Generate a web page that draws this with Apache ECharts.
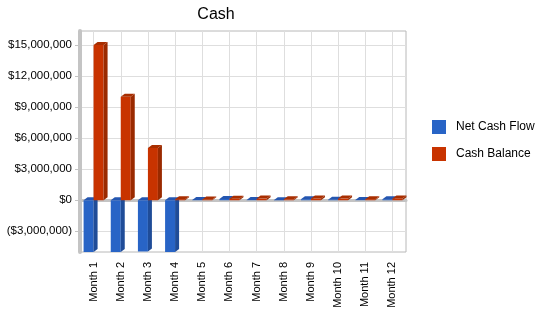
<!DOCTYPE html>
<html>
<head>
<meta charset="utf-8">
<title>Cash</title>
<script src="https://cdn.jsdelivr.net/npm/echarts@6/dist/echarts.min.js"></script>
<style>
html,body{margin:0;padding:0;background:#fff;}
#chart{width:550px;height:318px;}
</style>
</head>
<body>
<div id="chart"></div>
<script>
/**
 * 现金图表数据
 */
var months = ['Month 1','Month 2','Month 3','Month 4','Month 5','Month 6','Month 7','Month 8','Month 9','Month 10','Month 11','Month 12'];
var netCashFlow = [-5000000,-5000000,-4950000,-5000000,30000,120000,20000,10000,100000,50000,20000,100000];
var cashBalance = [15000000,10000000,5050000,100000,80000,150000,160000,90000,170000,160000,100000,180000];
var yTicks = [-3000000,0,3000000,6000000,9000000,12000000,15000000];

function money(v){
	var s = '$' + Math.abs(v).toString().replace(/\B(?=(\d{3})+(?!\d))/g, ',');
	return v < 0 ? '(' + s + ')' : s;
}

// 伪3D柱子：正面 + 侧面 + 顶面
function bar3d(offset, front, side, top){
	return function(params, api){
		var idx = api.value(0);
		var base = api.coord([idx, 0]);
		var end = api.coord([idx, api.value(1)]);
		var w = 10, dx = 4, dy = 3;
		var x0 = base[0] + offset * w;
		var yTop = Math.min(base[1], end[1]);
		var yBot = Math.max(base[1], end[1]);
		return {
			type: 'group',
			children: [{
				type: 'rect',
				shape: {x: x0, y: yTop, width: w, height: yBot - yTop},
				style: {fill: front}
			},{
				type: 'polygon',
				shape: {points: [[x0 + w, yTop],[x0 + w + dx, yTop - dy],[x0 + w + dx, yBot - dy],[x0 + w, yBot]]},
				style: {fill: side}
			},{
				type: 'polygon',
				shape: {points: [[x0, yTop],[x0 + dx, yTop - dy],[x0 + w + dx, yTop - dy],[x0 + w, yTop]]},
				style: {fill: top}
			}]
		};
	};
}

var chart = echarts.init(document.getElementById('chart'));
chart.setOption({
	animation: false,
	title: {
		text: 'Cash',
		left: 211,
		textAlign: 'center',
		top: 2,
		textStyle: {fontFamily: 'Liberation Sans', fontSize: 16, fontWeight: 'normal', color: '#000'}
	},
	legend: {
		orient: 'vertical',
		left: 432,
		top: 120,
		padding: 0,
		itemWidth: 14,
		itemHeight: 14,
		itemGap: 13,
		icon: 'rect',
		textStyle: {fontFamily: 'Liberation Sans', fontSize: 12, color: '#000', padding: [0, 0, 0, 5]},
		data: ['Net Cash Flow','Cash Balance']
	},
	grid: {
		left: 80,
		right: 144,
		top: 31,
		bottom: 66,
		show: true,
		borderColor: '#b8b8b8',
		borderWidth: 1
	},
	xAxis: {
		type: 'category',
		data: months,
		boundaryGap: true,
		axisLine: {lineStyle: {color: '#c4c4c4', width: 3}},
		axisTick: {alignWithLabel: true, length: 6, lineStyle: {color: '#c4c4c4'}},
		splitLine: {show: true, alignWithLabel: true, lineStyle: {color: '#dedede'}},
		axisLabel: {rotate: 90, margin: 10, interval: 0, fontFamily: 'Liberation Sans', fontSize: 11, color: '#000'}
	},
	yAxis: {
		type: 'value',
		min: -5000000,
		max: 16350000,
		axisLine: {show: true, lineStyle: {color: '#c4c4c4', width: 4}},
		axisTick: {show: true, length: 5, customValues: yTicks, lineStyle: {color: '#c4c4c4'}},
		axisLabel: {customValues: yTicks, margin: 8, fontFamily: 'Liberation Sans', fontSize: 11.5, color: '#000', formatter: money},
		splitLine: {lineStyle: {color: '#dedede'}}
	},
	series: [{
		name: 'Net Cash Flow',
		type: 'custom',
		itemStyle: {color: '#2864c6', borderColor: '#1d4a94'},
		renderItem: bar3d(-1, '#2864c6', '#1f4c98', '#2456b0'),
		encode: {x: 0, y: 1},
		data: netCashFlow.map(function(v, i){ return [i, v]; })
	},{
		name: 'Cash Balance',
		type: 'custom',
		itemStyle: {color: '#c83300', borderColor: '#962600'},
		renderItem: bar3d(0, '#c83300', '#9a2a00', '#a82e00'),
		encode: {x: 0, y: 1},
		data: cashBalance.map(function(v, i){ return [i, v]; })
	}]
});
</script>
</body>
</html>
